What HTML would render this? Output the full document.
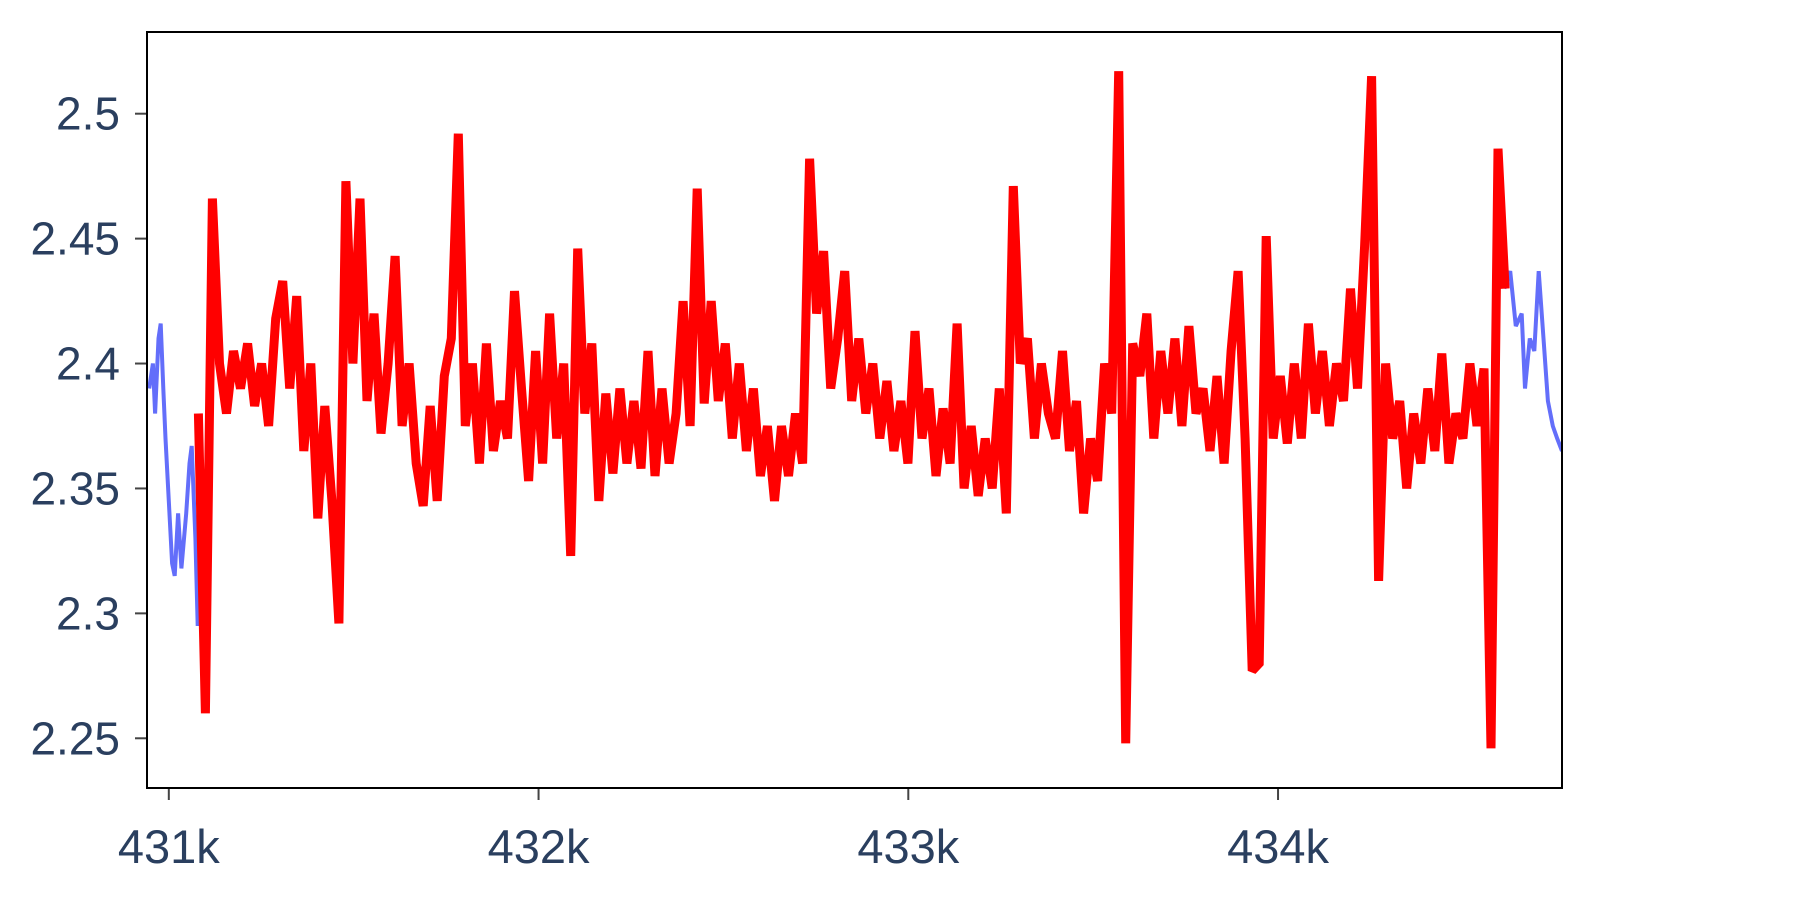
<!DOCTYPE html>
<html><head><meta charset="utf-8"><style>
html,body{margin:0;padding:0;background:#fff;}
svg{display:block;font-family:"Liberation Sans",sans-serif;}
</style></head><body>
<svg id="chart" width="1800" height="900" viewBox="0 0 1800 900" xmlns="http://www.w3.org/2000/svg">
<defs><clipPath id="clip"><rect x="147" y="32" width="1415" height="756"/></clipPath></defs>
<rect x="0" y="0" width="1800" height="900" fill="#fff"/>
<g id="ticks"></g>
<g clip-path="url(#clip)" id="series"></g>
<rect x="147" y="32" width="1415" height="756" fill="none" stroke="#000" stroke-width="2"/>
</svg>
<script>
const xTicks = [431000, 432000, 433000, 434000];
const xTickLabels = ["431k", "432k", "433k", "434k"];
const yTicks = [2.25, 2.3, 2.35, 2.4, 2.45, 2.5];
const yTickLabels = ["2.25", "2.3", "2.35", "2.4", "2.45", "2.5"];
const redStart = 431080;
const redStep = 19;
const redValues = [2.38,2.26,2.466,2.40,2.38,2.405,2.39,2.408,2.383,2.40,2.375,2.418,2.433,2.39,2.427,2.365,2.40,2.338,2.383,2.345,
2.296,2.473,2.40,2.466,2.385,2.42,2.372,2.40,2.443,2.375,2.40,2.36,2.343,2.383,2.345,2.395,2.41,2.492,2.375,2.40,
2.36,2.408,2.365,2.385,2.37,2.429,2.39,2.353,2.405,2.36,2.42,2.37,2.40,2.323,2.446,2.38,2.408,2.345,2.388,2.356,
2.39,2.36,2.385,2.358,2.405,2.355,2.39,2.36,2.38,2.425,2.375,2.47,2.384,2.425,2.385,2.408,2.37,2.40,2.365,2.39,
2.355,2.375,2.345,2.375,2.355,2.38,2.36,2.482,2.42,2.445,2.39,2.41,2.437,2.385,2.41,2.38,2.40,2.37,2.393,2.365,
2.385,2.36,2.413,2.37,2.39,2.355,2.382,2.36,2.416,2.35,2.375,2.347,2.37,2.35,2.39,2.34,2.471,2.40,2.41,2.37,
2.40,2.38,2.37,2.405,2.365,2.385,2.34,2.37,2.353,2.40,2.38,2.517,2.248,2.408,2.395,2.42,2.37,2.405,2.38,2.41,
2.375,2.415,2.38,2.39,2.365,2.395,2.36,2.405,2.437,2.37,2.277,2.28,2.451,2.37,2.395,2.368,2.40,2.37,2.416,2.38,
2.405,2.375,2.40,2.385,2.43,2.39,2.447,2.515,2.313,2.40,2.37,2.385,2.35,2.38,2.36,2.39,2.365,2.404,2.36,2.38,
2.37,2.40,2.375,2.398,2.246,2.486,2.43];
const blueStartX = [430947,430957,430963,430972,430978,430985,430991,431000,431009,431016,431025,431034,431047,431056,431062,431072,431078,431087];
const blueStartY = [2.39,2.40,2.38,2.41,2.416,2.39,2.37,2.345,2.32,2.315,2.34,2.318,2.34,2.36,2.367,2.33,2.295,2.33];
const blueEndX = [434612,434628,434643,434659,434668,434681,434693,434705,434718,434730,434743,434755,434768];
const blueEndY = [2.43,2.437,2.415,2.42,2.39,2.41,2.405,2.437,2.41,2.385,2.375,2.37,2.365];

const X0 = 147, X1 = 1562, Y0 = 32, Y1 = 788;
const xMin = 430941, xMax = 434768, yMin = 2.2301, yMax = 2.5327;
const sx = v => X0 + (v - xMin) / (xMax - xMin) * (X1 - X0);
const sy = v => Y1 - (v - yMin) / (yMax - yMin) * (Y1 - Y0);
const NS = "http://www.w3.org/2000/svg";
const ticks = document.getElementById('ticks');
const series = document.getElementById('series');

xTicks.forEach((t, i) => {
  const x = sx(t);
  const l = document.createElementNS(NS, 'line');
  l.setAttribute('x1', x); l.setAttribute('x2', x); l.setAttribute('y1', Y1); l.setAttribute('y2', Y1 + 12);
  l.setAttribute('stroke', '#444'); l.setAttribute('stroke-width', '2');
  
  
  ticks.appendChild(l);
  const tx = document.createElementNS(NS, 'text');
  tx.setAttribute('x', x); tx.setAttribute('y', 863); tx.setAttribute('text-anchor', 'middle');
  tx.setAttribute('font-size', '47'); tx.setAttribute('fill', '#2a3f5f');
  tx.textContent = xTickLabels[i];
  
  
  ticks.appendChild(tx);
});
yTicks.forEach((t, i) => {
  const y = sy(t);
  const l = document.createElementNS(NS, 'line');
  l.setAttribute('x1', X0 - 12); l.setAttribute('x2', X0); l.setAttribute('y1', y); l.setAttribute('y2', y);
  l.setAttribute('stroke', '#444'); l.setAttribute('stroke-width', '2');
  
  
  ticks.appendChild(l);
  const tx = document.createElementNS(NS, 'text');
  tx.setAttribute('x', 120); tx.setAttribute('y', y + 16); tx.setAttribute('text-anchor', 'end');
  tx.setAttribute('font-size', '46'); tx.setAttribute('fill', '#2a3f5f');
  tx.textContent = yTickLabels[i];
  
  
  ticks.appendChild(tx);
});

function drawLine(xs, ys, color, width, name) {
  const p = document.createElementNS(NS, 'path');
  p.setAttribute('d', xs.map((x, i) => (i ? 'L' : 'M') + sx(x).toFixed(1) + ',' + sy(ys[i]).toFixed(1)).join(''));
  p.setAttribute('fill', 'none'); p.setAttribute('stroke', color); p.setAttribute('stroke-width', width);
  p.setAttribute('stroke-linejoin', 'miter');
  p.setAttribute('stroke-miterlimit', '2');
  
  
  series.appendChild(p);
}
drawLine(blueStartX, blueStartY, '#636efa', 4, 'blue-series-line-start');
drawLine(blueEndX, blueEndY, '#636efa', 4, 'blue-series-line-end');
const redX = redValues.map((v, i) => redStart + i * redStep);
drawLine(redX, redValues, '#ff0000', 9, 'red-series-line');
</script>
</body></html>
